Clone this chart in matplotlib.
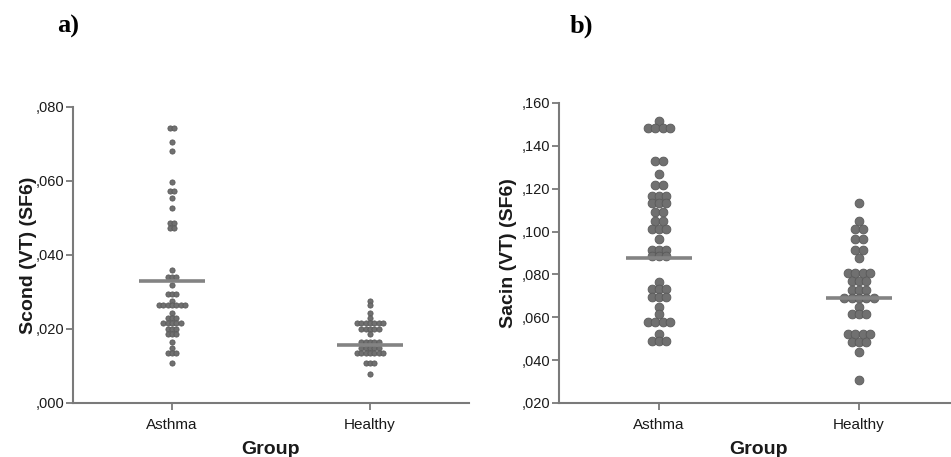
import numpy as np
import matplotlib.pyplot as plt

# Scond values (one entry per subject), read row by row from top to bottom
scond_asthma = [0.0742, 0.0742, 0.0705, 0.0680, 0.0598, 0.0573, 0.0573, 0.0554,
                0.0528, 0.0487, 0.0487, 0.0474, 0.0474, 0.0359,
                0.0341, 0.0341, 0.0341, 0.0319, 0.0295, 0.0295, 0.0295, 0.0276,
                0.0264, 0.0264, 0.0264, 0.0264, 0.0264, 0.0264, 0.0264, 0.0244,
                0.0229, 0.0229, 0.0229, 0.0215, 0.0215, 0.0215, 0.0215, 0.0215,
                0.0200, 0.0200, 0.0200, 0.0186, 0.0186, 0.0186, 0.0165, 0.0150,
                0.0134, 0.0134, 0.0134, 0.0109]
scond_healthy = [0.0276, 0.0265, 0.0244, 0.0229,
                 0.0215, 0.0215, 0.0215, 0.0215, 0.0215, 0.0215, 0.0215,
                 0.0200, 0.0200, 0.0200, 0.0200, 0.0200, 0.0186,
                 0.0166, 0.0166, 0.0166, 0.0166, 0.0166,
                 0.0148, 0.0148, 0.0148, 0.0148, 0.0148,
                 0.0134, 0.0134, 0.0134, 0.0134, 0.0134, 0.0134, 0.0134,
                 0.0107, 0.0107, 0.0107, 0.0078]

# Sacin values
sacin_asthma = [0.1517, 0.1485, 0.1485, 0.1485, 0.1485, 0.1329, 0.1329, 0.1269,
                0.1217, 0.1217, 0.1167, 0.1167, 0.1167, 0.1132, 0.1132, 0.1132,
                0.1093, 0.1093, 0.1051, 0.1051, 0.1012, 0.1012, 0.1012, 0.0965,
                0.0914, 0.0914, 0.0914, 0.0886, 0.0886, 0.0886, 0.0766,
                0.0731, 0.0731, 0.0731, 0.0693, 0.0693, 0.0693, 0.0649, 0.0615,
                0.0579, 0.0579, 0.0579, 0.0579, 0.0522, 0.0491, 0.0491, 0.0491]
sacin_healthy = [0.1132, 0.1049, 0.1011, 0.1011, 0.0964, 0.0964, 0.0914, 0.0914,
                 0.0875, 0.0808, 0.0808, 0.0808, 0.0808, 0.0769, 0.0769, 0.0769,
                 0.0727, 0.0727, 0.0727, 0.0691, 0.0691, 0.0691, 0.0691, 0.0691,
                 0.0649, 0.0614, 0.0614, 0.0614, 0.0521, 0.0521, 0.0521, 0.0521,
                 0.0486, 0.0486, 0.0486, 0.0437, 0.0307]

scond_medians = [0.0331, 0.0157]
sacin_medians = [0.0875, 0.0691]

groups = ['Asthma', 'Healthy']
scond_ticks = [0.0, 0.02, 0.04, 0.06, 0.08]
sacin_ticks = [0.02, 0.04, 0.06, 0.08, 0.10, 0.12, 0.14, 0.16]

DOT = '#707070'
EDGE = '#5a5a5a'
AXIS = '#7a7a7a'
TXT = '#1a1a1a'

W, H = 951, 457
fig = plt.figure(figsize=(W / 100, H / 100), dpi=100)


def px_axes(left, top, right, bottom):
    # axes box given in pixel coordinates (origin at top-left)
    return fig.add_axes([left / W, 1 - bottom / H, (right - left) / W, (bottom - top) / H])


def swarm(vals):
    # stack equal values side by side, centred on zero
    vals = np.asarray(vals)
    xs = np.zeros(len(vals))
    for v in np.unique(vals):
        idx = np.where(vals == v)[0]
        n = len(idx)
        xs[idx] = np.arange(n) - (n - 1) / 2
    return xs


def dot_panel(ax, data, medians, ticks, ylabel, spacing, size, label_x):
    for i, vals in enumerate(data):
        xs = i + swarm(vals) * spacing
        ax.scatter(xs, vals, s=size, color=DOT, edgecolors=EDGE, linewidths=0.6, zorder=3)
        ax.plot([i - 0.165, i + 0.165], [medians[i], medians[i]], color='#838383',
                lw=2.6, solid_capstyle='butt', zorder=4)

    ax.set_xlim(-0.5, 1.5)
    ax.set_ylim(ticks[0], ticks[-1])
    ax.set_xticks(range(len(groups)))
    ax.set_xticklabels(groups, fontsize=11, color=TXT, family='Liberation Sans')
    ax.set_yticks(ticks)
    ax.set_yticklabels([('%.3f' % t)[1:].replace('.', ',') for t in ticks],
                       fontsize=10.5, color=TXT, family='Liberation Sans')
    ax.tick_params(axis='both', colors=AXIS, labelcolor=TXT, length=5, width=1.3)
    ax.tick_params(axis='x', pad=6)
    ax.tick_params(axis='y', pad=1)
    for side in ['top', 'right']:
        ax.spines[side].set_visible(False)
    for side in ['left', 'bottom']:
        ax.spines[side].set_color(AXIS)
        ax.spines[side].set_linewidth(1.5)
    ax.set_xlabel('Group', fontsize=14, fontweight='bold', color=TXT,
                  family='Liberation Sans', labelpad=6)
    ax.set_ylabel(ylabel, fontsize=14, fontweight='bold', color=TXT, family='Liberation Sans')
    ax.yaxis.set_label_coords(label_x, 0.5)
    ax.patch.set_alpha(0)


ax1 = px_axes(73, 107, 469, 403)
dot_panel(ax1, [scond_asthma, scond_healthy], scond_medians, scond_ticks,
          'Scond (VT) (SF6)', 0.0219, 14, -0.092)

ax2 = px_axes(559, 103, 959, 403)
dot_panel(ax2, [sacin_asthma, sacin_healthy], sacin_medians, sacin_ticks,
          'Sacin (VT) (SF6)', 0.0365, 40, -0.105)

fig.text(57 / W, 1 - 26 / H, 'a)', fontsize=19, fontweight='bold',
         family='Liberation Serif', va='center', ha='left')
fig.text(570 / W, 1 - 26 / H, 'b)', fontsize=19, fontweight='bold',
         family='Liberation Serif', va='center', ha='left')

fig.savefig('out.png', dpi=100)
